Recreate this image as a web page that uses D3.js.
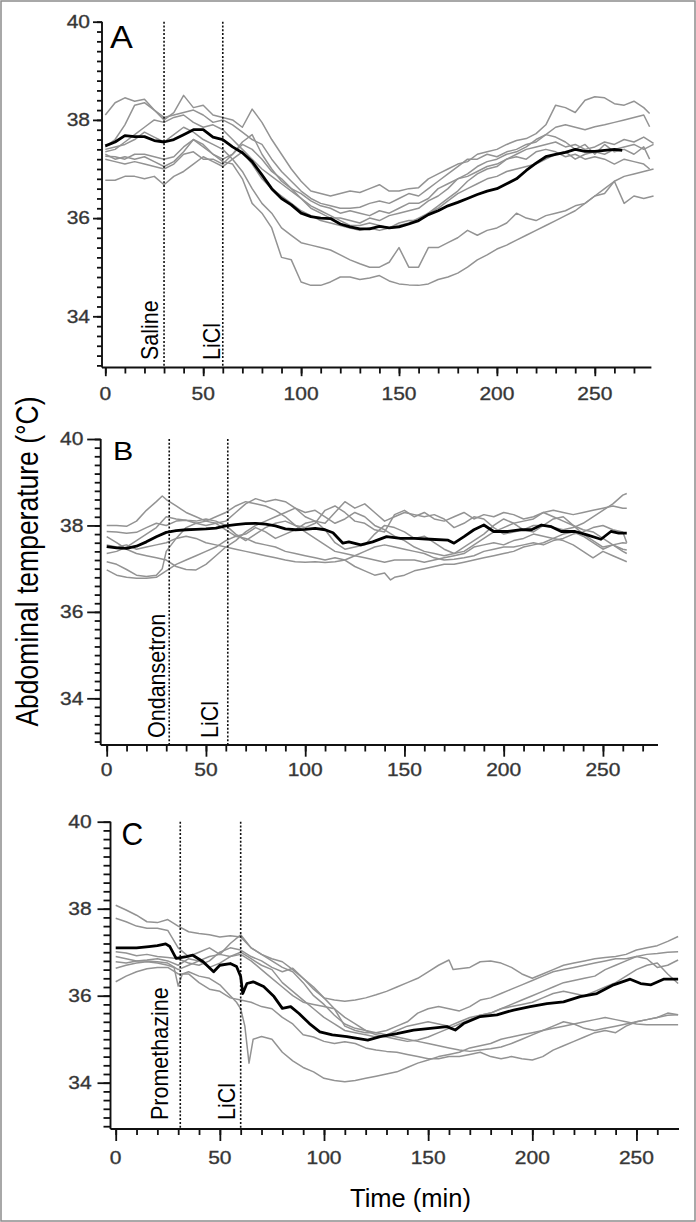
<!DOCTYPE html>
<html><head><meta charset="utf-8">
<script src="https://cdn.jsdelivr.net/npm/d3@7"></script>
<style>html,body{margin:0;padding:0;background:#fff;} svg{display:block;}</style>
</head><body>
<svg id="chart" width="696" height="1222"></svg>
<script>
// ---------------- DATA ----------------
const xTickLabels = [0, 50, 100, 150, 200, 250];
const yTickLabels = [34, 36, 38, 40];
const panelLetters = ["A", "B", "C"];
const drugLabels = [["Saline", "LiCl"], ["Ondansetron", "LiCl"], ["Promethazine", "LiCl"]];
const injectionTimes = [[30, 60], [31.5, 61], [31, 60]];
const yAxisTitle = "Abdominal temperature (°C)";
const xAxisTitle = "Time (min)";

// Panel A: Saline + LiCl  ([time (min), temperature (°C)])
const A_mean = [[0,37.47],[5,37.55],[10,37.68],[15,37.66],[20,37.66],[25,37.58],[30,37.55],[35,37.6],[40,37.7],[45,37.8],[50,37.8],[55,37.65],[60,37.6],[65,37.45],[70,37.33],[75,37.15],[80,36.88],[85,36.6],[90,36.4],[95,36.27],[100,36.1],[105,36.03],[110,36.0],[115,35.99],[120,35.88],[125,35.82],[130,35.78],[135,35.78],[140,35.83],[145,35.8],[150,35.82],[155,35.88],[160,35.95],[165,36.07],[170,36.15],[175,36.25],[180,36.32],[185,36.4],[190,36.48],[195,36.55],[200,36.6],[205,36.7],[210,36.8],[215,36.97],[220,37.12],[225,37.25],[230,37.3],[235,37.34],[240,37.4],[245,37.36],[250,37.36],[255,37.38],[260,37.4],[264,37.38]];
const A_rat1 = [[0,38.1],[5,38.35],[10,38.45],[15,38.38],[20,38.42],[25,38.2],[30,38.0],[35,38.15],[40,38.5],[45,38.25],[50,38.3],[55,38.1],[60,38.05],[65,38.0],[70,37.85],[75,38.22],[80,37.95],[85,37.6],[90,37.3],[95,37.0],[100,36.75],[105,36.55],[110,36.5],[115,36.45],[120,36.5],[125,36.55],[130,36.52],[135,36.6],[140,36.68],[145,36.55],[150,36.55],[155,36.6],[160,36.62],[165,36.8],[170,36.9],[175,37.0],[180,37.1],[185,37.15],[190,37.3],[195,37.35],[200,37.4],[205,37.5],[210,37.58],[215,37.62],[220,37.72],[225,37.9],[230,38.3],[235,38.25],[240,38.15],[245,38.4],[250,38.47],[255,38.45],[260,38.33],[265,38.3],[270,38.38],[275,38.25],[278,38.13]];
const A_rat2 = [[0,37.45],[5,37.6],[10,37.9],[15,38.3],[20,38.35],[25,38.2],[30,38.05],[35,38.1],[40,38.15],[45,38.2],[50,38.1],[55,37.95],[60,38.0],[65,37.9],[70,37.75],[75,37.6],[80,37.5],[85,37.2],[90,36.95],[95,36.75],[100,36.55],[105,36.4],[110,36.3],[115,36.25],[120,36.2],[125,36.2],[130,36.22],[135,36.3],[140,36.35],[145,36.3],[150,36.4],[155,36.5],[160,36.45],[165,36.6],[170,36.75],[175,36.9],[180,37.05],[185,37.2],[190,37.2],[195,37.3],[200,37.25],[205,37.35],[210,37.4],[215,37.5],[220,37.55],[225,37.7],[230,37.85],[235,37.9],[240,37.85],[245,37.8],[250,37.86],[255,37.9],[260,37.95],[265,38.0],[270,38.05],[275,38.1],[278,37.86]];
const A_rat3 = [[0,37.35],[5,37.4],[10,37.55],[15,37.7],[20,37.85],[25,38.0],[30,37.95],[35,38.05],[40,38.1],[45,37.95],[50,37.85],[55,37.9],[60,37.8],[65,37.6],[70,37.4],[75,37.2],[80,37.0],[85,36.85],[90,36.7],[95,36.55],[100,36.4],[105,36.2],[110,36.1],[115,36.0],[120,36.0],[125,35.95],[130,35.9],[135,36.0],[140,35.95],[145,36.05],[150,36.1],[155,36.15],[160,36.2],[165,36.35],[170,36.45],[175,36.6],[180,36.8],[185,36.85],[190,36.95],[195,37.05],[200,37.1],[205,37.2],[210,37.3],[215,37.4],[220,37.45],[225,37.5],[230,37.55],[235,37.45],[240,37.5],[245,37.4],[250,37.45],[255,37.55],[260,37.5],[265,37.6],[270,37.55],[275,37.65],[280,37.52]];
const A_rat4 = [[0,37.26],[5,37.25],[10,37.2],[15,37.3],[20,37.3],[25,37.25],[30,37.2],[35,37.25],[40,37.45],[45,37.6],[50,37.5],[55,37.3],[60,37.2],[65,37.3],[70,37.5],[75,37.4],[80,37.2],[85,36.95],[90,36.8],[95,36.6],[100,36.4],[105,36.25],[110,36.15],[115,36.05],[120,35.95],[125,35.85],[130,35.85],[135,35.9],[140,35.85],[145,35.8],[150,35.9],[155,35.95],[160,35.95],[165,36.1],[170,36.25],[175,36.4],[180,36.55],[185,36.75],[190,36.9],[195,37.0],[200,37.05],[205,37.2],[210,37.25],[215,37.2],[220,37.35],[225,37.4],[230,37.35],[235,37.25],[240,37.3],[245,37.2],[250,37.25],[255,37.2],[260,37.1],[265,37.2],[270,37.15],[275,37.1],[278,37.0]];
const A_rat5 = [[0,37.2],[5,37.15],[10,37.1],[15,37.15],[20,37.1],[25,37.05],[30,37.0],[35,37.1],[40,37.3],[45,37.35],[50,37.2],[55,37.2],[60,37.1],[65,37.3],[70,37.55],[75,37.7],[80,37.3],[85,37.0],[90,36.75],[95,36.6],[100,36.5],[105,36.35],[110,36.25],[115,36.2],[120,36.1],[125,36.15],[130,36.1],[135,36.05],[140,36.15],[145,36.1],[150,36.2],[155,36.3],[160,36.3],[165,36.4],[170,36.6],[175,36.7],[180,36.8],[185,36.9],[190,37.05],[195,37.15],[200,37.2],[205,37.3],[210,37.35],[215,37.45],[220,37.6],[225,37.7],[230,37.65],[235,37.55],[240,37.4],[245,37.5],[250,37.3],[255,37.5],[260,37.35],[265,37.4],[270,37.3],[275,37.45],[278,37.2]];
const A_rat6 = [[0,36.77],[5,36.77],[10,36.85],[15,36.85],[20,36.8],[25,36.85],[30,36.68],[35,36.85],[40,36.95],[45,37.1],[50,37.25],[55,37.15],[60,37.05],[65,37.2],[70,37.35],[75,37.1],[80,36.8],[85,36.6],[90,36.45],[95,36.3],[100,36.15],[105,36.05],[110,35.95],[115,35.9],[120,35.85],[125,35.8],[130,35.75],[135,35.8],[140,35.75],[145,35.8],[150,35.85],[155,35.9],[160,36.0],[165,36.1],[170,36.2],[175,36.35],[180,36.5],[185,36.6],[190,36.7],[195,36.8],[200,36.85],[205,36.95],[210,37.0],[215,37.05],[220,37.1],[225,37.2],[230,37.3],[235,37.35],[240,37.2],[245,37.3],[250,37.35],[255,37.3],[260,37.4],[265,37.45],[270,37.5],[275,37.4],[280,37.5]];
const A_rat7 = [[0,37.4],[5,37.45],[10,37.5],[15,37.6],[20,37.75],[25,37.65],[30,37.55],[35,37.7],[40,37.85],[45,37.75],[50,37.6],[55,37.5],[60,37.4],[65,37.2],[70,36.95],[75,36.6],[80,36.3],[85,36.1],[90,35.8],[95,35.65],[100,35.5],[105,35.45],[110,35.4],[115,35.35],[120,35.25],[125,35.15],[130,35.07],[135,35.0],[140,35.0],[145,35.1],[150,35.4],[155,35.0],[160,35.0],[165,35.4],[170,35.4],[175,35.5],[180,35.6],[185,35.75],[190,35.65],[195,35.75],[200,35.8],[205,35.9],[210,36.1],[215,36.0],[220,35.95],[225,36.05],[230,36.1],[235,36.15],[240,36.25],[245,36.3],[250,36.45],[255,36.5],[260,36.75],[265,36.3],[270,36.45],[275,36.4],[280,36.45]];
const A_rat8 = [[0,37.3],[5,37.2],[10,37.25],[15,37.2],[20,37.25],[25,37.15],[30,37.05],[35,37.15],[40,37.35],[45,37.6],[50,37.45],[55,37.3],[60,37.15],[65,37.1],[70,36.8],[75,36.3],[80,36.1],[85,35.8],[90,35.2],[95,35.15],[100,34.7],[105,34.63],[110,34.63],[115,34.7],[120,34.8],[125,34.8],[130,34.75],[135,34.78],[140,34.83],[145,34.72],[150,34.66],[155,34.64],[160,34.63],[165,34.66],[170,34.75],[175,34.8],[180,34.88],[185,35.0],[190,35.15],[195,35.25],[200,35.37],[205,35.45],[210,35.55],[215,35.65],[220,35.75],[225,35.85],[230,35.95],[235,36.05],[240,36.15],[245,36.3],[250,36.45],[255,36.6],[260,36.75],[265,36.85],[270,36.9],[275,36.95],[280,37.0]];

// Panel B: Ondansetron + LiCl
const B_mean = [[0,37.51],[5,37.48],[10,37.47],[15,37.52],[20,37.62],[25,37.74],[30,37.84],[35,37.88],[40,37.9],[45,37.91],[50,37.92],[55,37.94],[60,37.99],[65,38.02],[70,38.04],[75,38.05],[80,38.03],[85,37.99],[90,37.92],[95,37.9],[100,37.91],[105,37.93],[110,37.9],[114,37.83],[119,37.59],[122,37.62],[128,37.55],[134,37.62],[141,37.74],[148,37.7],[155,37.7],[163,37.68],[172,37.66],[175,37.59],[180,37.74],[185,37.9],[190,38.01],[195,37.86],[202,37.86],[208,37.9],[214,37.9],[219,38.01],[224,37.97],[229,37.86],[236,37.86],[242,37.78],[249,37.68],[254,37.86],[258,37.82],[262,37.82]];
const B_rat1 = [[0,38.0],[5,38.0],[10,37.98],[15,38.1],[20,38.35],[25,38.55],[28,38.68],[30,38.6],[35,38.45],[40,38.3],[45,38.2],[50,38.1],[55,38.05],[60,38.1],[65,38.3],[70,38.5],[75,38.62],[80,38.55],[85,38.6],[90,38.55],[95,38.4],[100,38.2],[105,38.1],[110,38.05],[115,38.3],[120,38.55],[125,38.4],[130,38.5],[135,38.3],[140,38.1],[145,38.2],[150,38.3],[155,38.25],[160,38.2],[165,38.25],[170,38.15],[175,37.95],[180,38.05],[185,38.2],[190,38.15],[195,37.95],[200,37.8],[205,37.85],[210,37.9],[215,38.0],[220,38.0],[225,37.95],[230,37.9],[235,37.95],[240,38.05],[245,38.2],[250,38.35],[255,38.5],[260,38.7],[262,38.74]];
const B_rat2 = [[0,37.86],[5,37.85],[10,37.82],[15,37.84],[20,37.95],[25,38.05],[30,38.0],[35,38.1],[40,38.12],[45,38.05],[50,38.1],[55,38.2],[60,38.3],[65,38.45],[70,38.55],[75,38.5],[80,38.45],[85,38.35],[90,38.2],[95,38.0],[100,37.95],[105,38.05],[110,38.35],[115,38.45],[120,38.3],[125,38.1],[130,38.05],[135,37.9],[140,37.85],[145,38.25],[150,38.35],[155,38.2],[160,38.3],[165,38.15],[170,38.1],[175,38.2],[180,38.3],[185,38.15],[190,38.25],[195,38.2],[200,38.3],[205,38.25],[210,38.15],[215,38.2],[220,38.3],[225,38.35],[230,38.3],[235,38.25],[240,38.3],[245,38.35],[250,38.4],[255,38.45],[260,38.4],[262,38.4]];
const B_rat3 = [[0,37.16],[5,37.1],[10,36.98],[15,36.85],[20,36.82],[25,36.85],[28,37.0],[30,37.4],[35,37.7],[40,37.95],[45,38.05],[50,38.0],[55,38.05],[60,37.9],[65,37.75],[70,37.8],[75,37.95],[80,37.85],[85,37.7],[90,37.8],[95,37.9],[100,38.05],[105,38.1],[110,37.9],[115,37.6],[120,37.45],[125,37.5],[130,37.55],[135,37.8],[140,38.0],[145,37.95],[150,37.85],[155,37.7],[160,37.75],[165,37.6],[170,37.45],[175,37.35],[180,37.5],[185,37.65],[190,37.8],[195,38.0],[200,38.15],[205,38.05],[210,37.9],[215,37.85],[220,38.0],[225,38.15],[230,38.2],[235,38.0],[240,37.8],[245,37.65],[250,37.5],[255,37.55],[260,37.45],[262,37.43]];
const B_rat4 = [[0,36.97],[5,36.85],[10,36.8],[15,36.78],[20,36.78],[25,36.8],[30,36.95],[35,37.1],[40,37.2],[45,37.3],[50,37.4],[55,37.5],[60,37.65],[65,37.75],[70,37.7],[75,37.6],[80,37.55],[85,37.5],[90,37.4],[95,37.35],[100,37.3],[105,37.25],[110,37.2],[115,37.25],[120,37.2],[125,37.05],[130,36.95],[135,36.85],[140,36.9],[143,36.74],[145,36.8],[150,36.85],[155,36.95],[160,37.0],[165,37.05],[170,37.1],[175,37.1],[180,37.15],[185,37.2],[190,37.25],[195,37.3],[200,37.35],[205,37.4],[210,37.5],[215,37.55],[220,37.6],[225,37.7],[230,37.65],[235,37.55],[240,37.4],[245,37.25],[250,37.4],[255,37.3],[260,37.2],[262,37.16]];
const B_rat5 = [[0,37.35],[5,37.4],[10,37.5],[15,37.65],[20,37.8],[25,37.95],[30,38.2],[35,38.15],[40,38.12],[45,38.1],[50,38.15],[55,38.1],[60,38.0],[65,37.8],[70,37.65],[75,37.8],[80,37.95],[85,38.05],[90,38.1],[95,38.0],[100,37.85],[105,37.7],[110,37.55],[115,37.4],[120,37.35],[125,37.3],[130,37.25],[135,37.2],[140,37.15],[145,37.2],[150,37.2],[155,37.2],[160,37.15],[165,37.2],[170,37.25],[175,37.3],[180,37.35],[185,37.5],[190,37.55],[195,37.6],[200,37.55],[205,37.65],[210,37.7],[215,37.8],[220,37.75],[225,37.7],[230,37.8],[235,37.85],[240,37.75],[245,37.6],[250,37.45],[255,37.55],[260,37.6],[262,37.59]];
const B_rat6 = [[0,37.74],[5,37.6],[10,37.45],[15,37.35],[20,37.3],[25,37.25],[30,37.2],[35,37.05],[40,36.98],[45,36.97],[50,37.1],[55,37.3],[60,37.5],[65,37.65],[70,37.85],[75,38.0],[80,38.1],[85,38.2],[90,38.3],[95,38.4],[100,38.3],[105,38.35],[110,38.2],[115,38.05],[120,38.15],[125,38.3],[130,38.2],[135,38.0],[140,37.9],[145,37.75],[150,37.65],[155,37.5],[160,37.4],[165,37.35],[170,37.3],[175,37.35],[180,37.4],[185,37.55],[190,37.7],[195,37.85],[200,37.95],[205,38.05],[210,38.1],[215,38.15],[220,38.3],[225,38.2],[230,38.1],[235,38.0],[240,37.9],[245,37.85],[250,37.7],[255,37.55],[260,37.4],[262,37.35]];
const B_rat7 = [[0,37.55],[5,37.5],[10,37.55],[15,37.45],[20,37.5],[25,37.55],[30,37.6],[35,37.7],[40,37.75],[45,37.7],[50,37.6],[55,37.55],[60,37.5],[65,37.45],[70,37.4],[75,37.35],[80,37.3],[85,37.25],[90,37.2],[95,37.16],[100,37.15],[105,37.16],[110,37.14],[115,37.16],[120,37.2],[125,37.3],[130,37.4],[135,37.5],[140,37.55],[145,37.5],[150,37.45],[155,37.4],[160,37.35],[165,37.25],[170,37.2],[175,37.22],[180,37.25],[185,37.3],[190,37.4],[195,37.45],[200,37.5],[205,37.5],[210,37.55],[215,37.6],[220,37.55],[225,37.65],[230,37.7],[235,37.8],[240,37.85],[245,37.95],[250,38.0],[255,37.9],[260,37.85],[262,37.6]];

// Panel C: Promethazine + LiCl
const C_mean = [[0,37.1],[5,37.1],[10,37.1],[16,37.13],[20,37.15],[24,37.19],[26,37.13],[29,36.86],[34,36.9],[37,36.93],[42,36.78],[47,36.55],[50,36.7],[55,36.74],[58,36.67],[60,36.44],[61,36.05],[63,36.28],[66,36.32],[71,36.21],[76,35.98],[80,35.71],[84,35.75],[88,35.59],[93,35.36],[98,35.17],[104,35.1],[111,35.06],[121,34.98],[127,35.06],[135,35.13],[143,35.21],[151,35.25],[159,35.29],[163,35.21],[167,35.36],[175,35.52],[183,35.56],[191,35.67],[199,35.75],[207,35.82],[215,35.86],[223,35.98],[231,36.05],[239,36.25],[247,36.38],[252,36.28],[257,36.25],[263,36.38],[270,36.38]];
const C_rat1 = [[0,38.08],[5,37.97],[10,37.85],[15,37.7],[20,37.68],[25,37.75],[30,37.6],[35,37.47],[40,37.43],[45,37.4],[50,37.35],[55,37.38],[60,37.35],[65,37.1],[70,36.95],[75,36.85],[80,36.78],[85,36.6],[90,36.4],[95,36.15],[100,35.95],[105,35.9],[110,35.87],[115,35.9],[120,35.95],[125,36.02],[130,36.1],[135,36.2],[140,36.3],[145,36.4],[150,36.55],[155,36.7],[160,36.82],[162,36.6],[165,36.62],[170,36.65],[175,36.78],[180,36.8],[185,36.75],[190,36.65],[195,36.5],[200,36.4],[205,36.5],[210,36.6],[215,36.7],[220,36.75],[225,36.8],[230,36.85],[235,36.88],[240,36.9],[245,36.95],[250,37.05],[255,37.1],[260,37.15],[265,37.25],[270,37.36]];
const C_rat2 = [[0,37.78],[5,37.7],[10,37.6],[15,37.55],[20,37.55],[25,37.5],[30,37.1],[35,36.9],[40,37.0],[45,37.1],[50,36.95],[55,37.2],[60,37.4],[65,37.1],[70,36.95],[75,36.8],[80,36.65],[85,36.55],[90,36.3],[95,36.0],[100,35.8],[105,35.55],[110,35.35],[115,35.25],[120,35.2],[125,35.15],[130,35.2],[135,35.3],[140,35.4],[145,35.6],[150,35.7],[155,35.75],[160,35.7],[165,35.65],[170,35.75],[175,35.9],[180,35.95],[185,36.05],[190,36.15],[195,36.25],[200,36.35],[205,36.45],[210,36.55],[215,36.6],[220,36.65],[225,36.7],[230,36.75],[235,36.8],[240,36.85],[245,36.85],[250,36.9],[255,36.95],[260,36.97],[265,37.0],[270,37.01]];
const C_rat3 = [[0,37.01],[5,36.98],[10,36.92],[15,36.95],[20,36.9],[25,36.88],[30,36.85],[35,36.75],[40,36.7],[45,36.8],[50,37.0],[55,37.1],[60,37.05],[65,36.9],[70,36.8],[75,36.65],[80,36.55],[85,36.63],[90,36.4],[95,36.2],[100,35.95],[105,35.7],[110,35.5],[115,35.35],[120,35.2],[125,35.1],[130,35.05],[135,35.0],[140,34.95],[145,34.98],[150,35.05],[155,35.15],[160,35.25],[165,35.35],[170,35.45],[175,35.55],[180,35.6],[185,35.7],[190,35.8],[195,35.9],[200,36.0],[205,36.1],[210,36.2],[215,36.3],[220,36.35],[225,36.4],[230,36.45],[235,36.6],[240,36.7],[245,36.8],[250,36.9],[255,36.85],[260,36.65],[265,36.7],[270,36.82]];
const C_rat4 = [[0,36.9],[5,36.85],[10,36.8],[15,36.82],[20,36.85],[25,36.8],[30,36.7],[35,36.85],[40,36.8],[45,36.65],[50,36.75],[55,36.9],[60,37.0],[65,36.85],[70,36.7],[75,36.6],[80,36.3],[85,36.1],[90,35.9],[95,35.7],[100,35.5],[105,35.35],[110,35.2],[115,35.15],[120,35.1],[125,35.05],[130,35.1],[135,35.2],[140,35.3],[145,35.35],[150,35.4],[155,35.35],[160,35.3],[165,35.4],[170,35.5],[175,35.55],[180,35.6],[185,35.7],[190,35.75],[195,35.8],[200,35.85],[205,35.95],[210,36.05],[215,36.1],[220,36.05],[225,36.0],[230,36.1],[235,36.2],[240,36.3],[245,36.45],[250,36.6],[255,36.7],[260,36.75],[265,36.5],[270,36.28]];
const C_rat5 = [[0,36.78],[5,36.75],[10,36.8],[15,36.8],[20,36.78],[25,36.75],[30,36.6],[35,36.7],[40,36.8],[45,36.9],[50,36.95],[55,36.9],[60,36.95],[65,36.8],[70,36.6],[75,36.4],[80,36.2],[85,36.0],[90,35.85],[95,35.8],[100,35.75],[105,35.7],[110,35.3],[115,35.2],[120,35.15],[125,35.15],[130,35.1],[135,35.05],[140,35.0],[145,34.95],[150,34.9],[155,34.85],[160,34.8],[165,34.75],[170,34.72],[175,34.75],[180,34.78],[185,34.82],[190,34.9],[195,35.0],[200,35.1],[205,35.2],[210,35.3],[215,35.4],[220,35.35],[225,35.25],[230,35.2],[235,35.25],[240,35.3],[245,35.35],[250,35.4],[255,35.45],[260,35.5],[265,35.55],[270,35.56]];
const C_rat6 = [[0,36.63],[5,36.7],[10,36.75],[15,36.78],[20,36.75],[25,36.7],[28,36.65],[30,36.22],[32,36.5],[35,36.55],[40,36.45],[45,36.4],[50,36.25],[55,36.0],[58,35.85],[60,35.7],[62,35.3],[64,34.45],[66,35.0],[70,35.06],[75,35.0],[80,34.7],[85,34.5],[90,34.35],[95,34.25],[100,34.1],[105,34.05],[110,34.02],[115,34.05],[120,34.1],[125,34.15],[130,34.2],[135,34.25],[140,34.35],[145,34.45],[150,34.52],[155,34.6],[160,34.65],[165,34.7],[170,34.8],[175,34.85],[180,34.9],[185,35.0],[190,35.05],[195,35.1],[200,35.15],[205,35.2],[210,35.25],[215,35.3],[220,35.35],[225,35.4],[230,35.45],[235,35.5],[240,35.45],[245,35.4],[250,35.35],[255,35.33],[260,35.33],[265,35.33],[270,35.33]];
const C_rat7 = [[0,36.32],[5,36.45],[10,36.55],[15,36.62],[20,36.65],[25,36.65],[30,36.5],[35,36.5],[40,36.3],[45,36.15],[50,36.1],[55,35.95],[60,35.9],[65,35.85],[70,35.75],[75,35.7],[80,35.5],[85,35.35],[90,35.1],[95,35.05],[100,34.95],[105,34.9],[110,34.94],[115,34.9],[120,34.8],[125,34.75],[130,34.72],[135,34.7],[140,34.65],[145,34.6],[150,34.55],[155,34.55],[160,34.6],[165,34.6],[170,34.65],[175,34.7],[180,34.6],[185,34.55],[190,34.6],[195,34.55],[200,34.52],[205,34.6],[210,34.75],[215,34.85],[220,34.95],[225,35.05],[230,35.15],[235,35.2],[240,35.15],[245,35.3],[250,35.4],[255,35.45],[260,35.5],[265,35.6],[270,35.56]];

const A_rats = [A_rat1, A_rat2, A_rat3, A_rat4, A_rat5, A_rat6, A_rat7, A_rat8];
const B_rats = [B_rat1, B_rat2, B_rat3, B_rat4, B_rat5, B_rat6, B_rat7];
const C_rats = [C_rat1, C_rat2, C_rat3, C_rat4, C_rat5, C_rat6, C_rat7];
const panelMeans = [A_mean, B_mean, C_mean];
const panelRats = [A_rats, B_rats, C_rats];

// ---------------- LAYOUT ----------------
const layout = [
  {yAxisX:102, xAxisY:367.5, x0:105.3, pxMin:1.958, xMax:280, xAxisEnd:651.4, y40:21.7, pxDeg:49.1,
   yMaj:9, yMin:5, xMaj:8.7, xMin:6, yLabOff:12, xLabOff:19.5,
   letter:{x:110, y:48.3, size:32, sx:1.07}, lblGap:[6,3], lblBottom:360},
  {yAxisX:100.7, xAxisY:745, x0:106.7, pxMin:1.985, xMax:278, xAxisEnd:658, y40:439, pxDeg:43.22,
   yMaj:13.5, yMin:6, xMaj:11.7, xMin:6.5, yLabOff:17.4, xLabOff:18,
   letter:{x:113, y:460, size:26, sx:1.17}, lblGap:[4,9.5], lblBottom:738},
  {yAxisX:110.5, xAxisY:1129, x0:115.7, pxMin:2.083, xMax:270, xAxisEnd:679, y40:821.7, pxDeg:43.5,
   yMaj:13, yMin:7, xMaj:12, xMin:6, yLabOff:18.8, xLabOff:22.7,
   letter:{x:121.5, y:844.5, size:31, sx:0.97}, lblGap:[12,5.5], lblBottom:1120}
];

const svg = d3.select("#chart");
svg.append("rect").attr("width",696).attr("height",1222).attr("fill","#fff");
svg.append("rect").attr("x",1).attr("y",1).attr("width",694).attr("height",1220)
   .attr("fill","none").attr("stroke","#8c8c8c").attr("stroke-width",1.5);

const tickFont = "'Liberation Sans', Arial, sans-serif";
const tickFs = 17.5, tickSx = 1.2;

layout.forEach((L, i) => {
  const g = svg.append("g");
  const x = d3.scaleLinear().domain([0, L.xMax]).range([L.x0, L.x0 + L.pxMin * L.xMax]);
  const y = d3.scaleLinear().domain([33, 40]).range([L.y40 + 7 * L.pxDeg, L.y40]);

  const line = d3.line().x(d => x(d[0])).y(d => y(d[1]));
  g.append("g").selectAll("path").data(panelRats[i]).join("path")
    .attr("d", line).attr("fill","none").attr("stroke","#939393")
    .attr("stroke-width",1.5).attr("stroke-linejoin","round");
  g.append("g").selectAll("line").data(injectionTimes[i]).join("line")
    .attr("x1", d => x(d)).attr("x2", d => x(d))
    .attr("y1", y(40)).attr("y2", L.xAxisY)
    .attr("stroke","#111").attr("stroke-width",1.6).attr("stroke-dasharray","2,1.8");
  g.append("path").datum(panelMeans[i]).attr("d", line).attr("fill","none")
    .attr("stroke","#000").attr("stroke-width",2.8).attr("stroke-linejoin","round");

  // X axis
  const xMinor = d3.range(0, L.xMax - 5, 10);
  const xa = g.append("g").attr("transform", `translate(0,${L.xAxisY})`);
  xa.append("g").call(d3.axisBottom(x).tickValues(xMinor).tickSize(L.xMin).tickFormat(""))
    .call(s => s.select(".domain").remove());
  xa.append("g").call(d3.axisBottom(x).tickValues(xTickLabels).tickSize(L.xMaj).tickFormat(""))
    .call(s => s.select(".domain").remove());
  xa.selectAll(".tick line").attr("stroke","#111").attr("stroke-width",1.8);
  xa.append("line").attr("x1", L.yAxisX).attr("x2", L.xAxisEnd).attr("y1",0).attr("y2",0)
    .attr("stroke","#111").attr("stroke-width",1.9);
  xa.selectAll("text.xl").data(xTickLabels).join("text").attr("class","xl")
    .attr("transform", d => `translate(${x(d)},${L.xLabOff + 0.716 * tickFs}) scale(${tickSx},1)`)
    .attr("text-anchor","middle").attr("font-family", tickFont).attr("font-size", tickFs)
    .attr("fill","#333").attr("stroke","#444").attr("stroke-width",0.35).text(d => d);

  // Y axis
  const yMinor = d3.range(0, 36).map(k => 33 + k * 0.2);
  const ya = g.append("g").attr("transform", `translate(${L.yAxisX},0)`);
  ya.append("g").call(d3.axisLeft(y).tickValues(yMinor).tickSize(L.yMin).tickFormat(""))
    .call(s => s.select(".domain").remove());
  ya.append("g").call(d3.axisLeft(y).tickValues(yTickLabels).tickSize(L.yMaj).tickFormat(""))
    .call(s => s.select(".domain").remove());
  ya.selectAll(".tick line").attr("stroke","#111").attr("stroke-width",1.8);
  ya.append("line").attr("x1",0).attr("x2",0).attr("y1", y(40)).attr("y2", L.xAxisY)
    .attr("stroke","#111").attr("stroke-width",1.9);
  ya.selectAll("text.yl").data(yTickLabels).join("text").attr("class","yl")
    .attr("transform", d => `translate(${-L.yLabOff},${y(d) + 0.36 * tickFs}) scale(${tickSx},1)`)
    .attr("text-anchor","end").attr("font-family", tickFont).attr("font-size", tickFs)
    .attr("fill","#333").attr("stroke","#444").attr("stroke-width",0.35).text(d => d);

  g.append("text").attr("transform", `translate(${L.letter.x},${L.letter.y}) scale(${L.letter.sx},1)`)
    .attr("font-family", tickFont).attr("font-size", L.letter.size).attr("fill","#000")
    .text(panelLetters[i]);

  drugLabels[i].forEach((lab, k) => {
    g.append("text")
      .attr("transform", `translate(${x(injectionTimes[i][k]) - L.lblGap[k]},${L.lblBottom}) rotate(-90) scale(1,1.14)`)
      .attr("font-family", tickFont).attr("font-size", 21.5).attr("fill","#000")
      .attr("text-anchor","start").text(lab);
  });
});

svg.append("text").attr("transform","translate(37.5,561.5) rotate(-90) scale(1,1.15)")
  .attr("text-anchor","middle").attr("font-family", tickFont).attr("font-size", 26.5)
  .attr("fill","#000").text(yAxisTitle);
svg.append("text").attr("x",410.5).attr("y",1207).attr("text-anchor","middle")
  .attr("font-family", tickFont).attr("font-size", 25.5).attr("fill","#000").text(xAxisTitle);
</script>
</body></html>
